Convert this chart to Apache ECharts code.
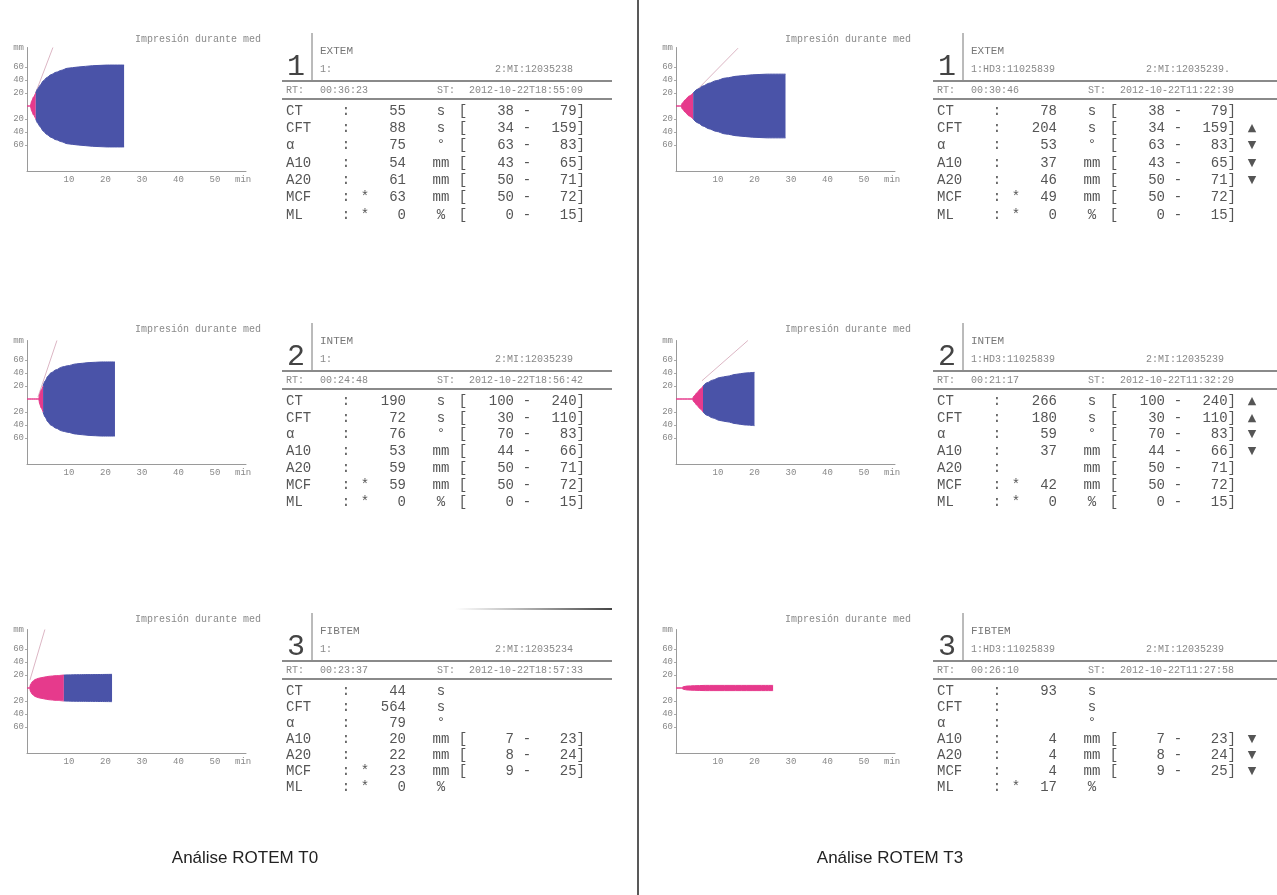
<!DOCTYPE html>
<html>
<head>
<meta charset="utf-8">
<script src="https://cdn.jsdelivr.net/npm/echarts@6/dist/echarts.min.js"></script>
<style>
html,body{margin:0;padding:0;background:#fff;}
#main{width:1277px;height:895px;}
</style>
</head>
<body>
<div id="main"></div>
<script>
// temogramas: [min, mm]
var extemT0 = [[0,0],[0.9,0],[1.3,8],[1.8,14],[2.4,20],[3,27],[3.6,32],[4.5,39],[5.5,44],[6.5,48],[8,52],[9.5,55],[11,58],[14,60],[18,62],[22,63],[26.6,63]];
var intemT0 = [[0,0],[3.2,0],[3.5,8],[3.9,14],[4.4,20],[5,28],[5.7,35],[6.5,40],[8,45],[9.5,49],[11,51],[13.5,54],[17,56],[20.5,57],[24.1,57]];
var fibtemT0 = [[0,0],[0.7,0],[1,6],[1.5,10],[2.2,13],[3.2,15],[4.5,16.5],[6,18],[8,19],[10.1,20],[15,20.5],[23.3,21]];
var extemT3 = [[0,0],[1.3,0],[1.8,5],[2.6,10],[3.5,15],[4.7,20],[6,26],[7.5,31],[9,35],[11,39],[13.5,43],[17,46],[21,48],[25,49],[30,49]];
var intemT3 = [[0,0],[4.4,0],[5,5],[5.8,10],[6.6,15],[7.4,20],[8.5,25],[10,29],[12,33],[14,35],[16.5,38],[19,40],[21.5,41]];
var fibtemT3 = [[0,0],[1.5,0],[2,2],[3,3],[5,3.5],[8,4],[26.6,4]];

// linhas do angulo alfa
var alphaExtemT0 = [[1,0],[7.1,90]];
var alphaIntemT0 = [[3,3],[8.2,90]];
var alphaFibtemT0 = [[0.8,12],[4.9,90]];
var alphaExtemT3 = [[3,9],[17,89]];
var alphaIntemT3 = [[7.1,28],[19.7,90]];

var xTicks = [10,20,30,40,50];
var yTicks = [60,40,20,-20,-40,-60];

var paramLabels = ['CT','CFT','α','A10','A20','MCF','ML'];
var paramUnits = ['s','s','°','mm','mm','mm','%'];
var refExtem = [[38,79],[34,159],[63,83],[43,65],[50,71],[50,72],[0,15]];
var refIntem = [[100,240],[30,110],[70,83],[44,66],[50,71],[50,72],[0,15]];
var refFibtem = [null,null,null,[7,23],[8,24],[9,25],null];

var valExtemT0 = [55,88,75,54,61,63,0];
var valIntemT0 = [190,72,76,53,59,59,0];
var valFibtemT0 = [44,564,79,20,22,23,0];
var valExtemT3 = [78,204,53,37,46,49,0];
var valIntemT3 = [266,180,59,37,'',42,0];
var valFibtemT3 = [93,'','',4,4,4,17];

var starStd = ['','','','','','*','*'];
var starFibT3 = ['','','','','','','*'];
var flagExtemT3 = ['','▲','▼','▼','▼','',''];
var flagIntemT3 = ['▲','▲','▼','▼','','',''];
var flagFibtemT3 = ['','','','▼','▼','▼',''];

var headExtemT0 = ['EXTEM','1:','2:MI:12035238','00:36:23','2012-10-22T18:55:09'];
var headIntemT0 = ['INTEM','1:','2:MI:12035239','00:24:48','2012-10-22T18:56:42'];
var headFibtemT0 = ['FIBTEM','1:','2:MI:12035234','00:23:37','2012-10-22T18:57:33'];
var headExtemT3 = ['EXTEM','1:HD3:11025839','2:MI:12035239.','00:30:46','2012-10-22T11:22:39'];
var headIntemT3 = ['INTEM','1:HD3:11025839','2:MI:12035239','00:21:17','2012-10-22T11:32:29'];
var headFibtemT3 = ['FIBTEM','1:HD3:11025839','2:MI:12035239','00:26:10','2012-10-22T11:27:58'];

var captions = ['Análise ROTEM T0','Análise ROTEM T3'];
var chartTitle = 'Impresión durante med';

var panels = [
  {col:0,row:0,num:'1',trace:extemT0,alpha:alphaExtemT0,head:headExtemT0,val:valExtemT0,ref:refExtem,star:starStd,flag:null},
  {col:0,row:1,num:'2',trace:intemT0,alpha:alphaIntemT0,head:headIntemT0,val:valIntemT0,ref:refIntem,star:starStd,flag:null},
  {col:0,row:2,num:'3',trace:fibtemT0,alpha:alphaFibtemT0,head:headFibtemT0,val:valFibtemT0,ref:refFibtem,star:starStd,flag:null},
  {col:1,row:0,num:'1',trace:extemT3,alpha:alphaExtemT3,head:headExtemT3,val:valExtemT3,ref:refExtem,star:starStd,flag:flagExtemT3},
  {col:1,row:1,num:'2',trace:intemT3,alpha:alphaIntemT3,head:headIntemT3,val:valIntemT3,ref:refIntem,star:starStd,flag:flagIntemT3},
  {col:1,row:2,num:'3',trace:fibtemT3,alpha:null,head:headFibtemT3,val:valFibtemT3,ref:refFibtem,star:starFibT3,flag:flagFibtemT3}
];

// layout
var chartX = [27, 676];
var rowCenter = [106, 399, 688];
var headY = [51, 341, 631];
var rowStep = [17.3, 16.8, 16];
var PX_MIN = 3.65, PX_MM = 0.65;
var BLUE = '#4a53a8', PINK = '#e63a8c';
var MONO = '"Liberation Mono","DejaVu Sans Mono",monospace';

var grids = [], xAxes = [], yAxes = [], series = [], els = [];

function txt(x, y, s, size, color, align, font) {
  els.push({
    type: 'text', x: x, y: y, silent: true,
    style: {
      text: String(s), fill: color,
      font: size + 'px ' + (font || MONO),
      align: align || 'left', textAlign: align || 'left',
      verticalAlign: 'middle', textVerticalAlign: 'middle'
    }
  });
}
function hline(x1, x2, y, w, color) {
  els.push({type:'line', silent:true, shape:{x1:x1,y1:y,x2:x2,y2:y}, style:{stroke:color,lineWidth:w}});
}
function vline(x, y1, y2, w, color) {
  els.push({type:'line', silent:true, shape:{x1:x,y1:y1,x2:x,y2:y2}, style:{stroke:color,lineWidth:w}});
}

panels.forEach(function (p, i) {
  grids.push({
    left: chartX[p.col], top: rowCenter[p.row] - 90 * PX_MM,
    width: 60 * PX_MIN, height: 190 * PX_MM
  });
  xAxes.push({
    gridIndex: i, type: 'value', min: 0, max: 60,
    axisLine: {onZero: false, lineStyle: {color: '#9a9a9a', width: 1}},
    splitLine: {show: false},
    axisTick: {show: false},
    axisLabel: {
      customValues: xTicks.concat([57]),
      formatter: function (v) { return v === 57 ? 'min' : String(v); },
      color: '#888', fontSize: 9, fontFamily: MONO, align: 'left', margin: 4
    }
  });
  yAxes.push({
    gridIndex: i, type: 'value', min: -100, max: 90,
    axisLine: {show: true, lineStyle: {color: '#9a9a9a', width: 1}},
    splitLine: {show: false},
    axisTick: {show: true, customValues: yTicks, length: 2, lineStyle: {color: '#aaa'}},
    axisLabel: {
      customValues: [90].concat(yTicks),
      formatter: function (v) { return v === 90 ? 'mm' : String(Math.abs(v)); },
      color: '#888', fontSize: 9, fontFamily: MONO, margin: 3
    }
  });

  var pink = p.trace.filter(function (d) { return d[1] <= 20; });
  var blue = p.trace.filter(function (d) { return d[1] >= 20; });
  function mk(data, sign, color) {
    return {
      type: 'line', xAxisIndex: i, yAxisIndex: i, silent: true,
      showSymbol: false, smooth: 0.3, smoothMonotone: 'x',
      data: data.map(function (d) { return [d[0], sign * d[1]]; }),
      lineStyle: {color: color, width: 1},
      areaStyle: {color: color, opacity: 1},
      z: 3
    };
  }
  if (p.alpha) {
    series.push({
      type: 'line', xAxisIndex: i, yAxisIndex: i, silent: true, showSymbol: false,
      data: p.alpha, lineStyle: {color: '#dcb6c4', width: 1}, z: 2
    });
  }
  if (pink.length > 1) { series.push(mk(pink, 1, PINK)); series.push(mk(pink, -1, PINK)); }
  if (blue.length > 1) { series.push(mk(blue, 1, BLUE)); series.push(mk(blue, -1, BLUE)); }

  // titulo da impressao
  txt(p.col === 0 ? 135 : 785, headY[p.row] - 12, chartTitle, 10, '#8a8a8a');

  // cabecalho
  var dx = p.col === 0 ? 0 : 651;
  var ty = headY[p.row];
  var ruleEnd = p.col === 0 ? 612 : 1277;
  txt(296 + dx, ty + 16, p.num, 30, '#444', 'center');
  vline(312 + dx, ty - 18, ty + 30, 1, '#777');
  txt(320 + dx, ty, p.head[0], 11, '#777');
  txt(320 + dx, ty + 18, p.head[1], 10, '#888');
  txt(495 + dx, ty + 18, p.head[2], 10, '#888');
  hline(282 + dx, ruleEnd, ty + 30, 2, '#8a8a8a');
  txt(286 + dx, ty + 39, 'RT:', 10, '#888');
  txt(320 + dx, ty + 39, p.head[3], 10, '#888');
  txt(437 + dx, ty + 39, 'ST:', 10, '#888');
  txt(469 + dx, ty + 39, p.head[4], 10, '#888');
  hline(282 + dx, ruleEnd, ty + 48, 2, '#8a8a8a');

  // tabela de parametros
  paramLabels.forEach(function (lab, k) {
    var y = ty + 60 + k * rowStep[p.row];
    var c = '#555';
    txt(286 + dx, y, lab, 14, c);
    txt(346 + dx, y, ':', 14, c, 'center');
    if (p.star[k]) txt(365 + dx, y, p.star[k], 14, c, 'center');
    txt(406 + dx, y, p.val[k], 14, c, 'right');
    txt(441 + dx, y, paramUnits[k], 14, c, 'center');
    var r = p.ref[k];
    if (r) {
      txt(463 + dx, y, '[', 14, c, 'center');
      txt(514 + dx, y, r[0], 14, c, 'right');
      txt(527 + dx, y, '-', 14, c, 'center');
      txt(585 + dx, y, r[1] + ']', 14, c, 'right');
    }
    if (p.flag && p.flag[k]) {
      txt(601 + dx, y, p.flag[k], 11, '#555', 'center', '"DejaVu Sans",sans-serif');
    }
  });
});

// divisoria, sombra do scan e legendas
vline(638, 0, 895, 1.5, '#222');
els.push({
  type: 'rect', silent: true, shape: {x: 455, y: 608, width: 157, height: 2},
  style: {fill: new echarts.graphic.LinearGradient(0, 0, 1, 0, [
    {offset: 0, color: 'rgba(90,90,90,0)'}, {offset: 1, color: '#444'}
  ])}
});
txt(245, 858, captions[0], 17, '#222', 'center', '"Liberation Sans",Arial,sans-serif');
txt(890, 858, captions[1], 17, '#222', 'center', '"Liberation Sans",Arial,sans-serif');

var myChart = echarts.init(document.getElementById('main'));
var option = {
  animation: false,
  backgroundColor: '#fff',
  grid: grids,
  xAxis: xAxes,
  yAxis: yAxes,
  series: series,
  graphic: {elements: els}
};
myChart.setOption(option);
</script>
</body>
</html>
